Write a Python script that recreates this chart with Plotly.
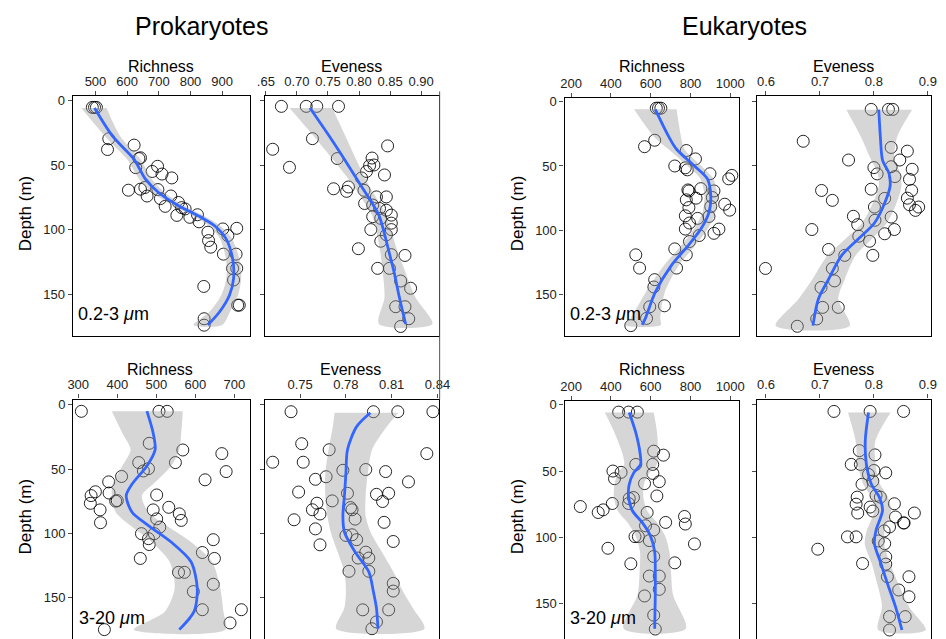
import plotly.graph_objects as go

W, H = 946, 639

# ---------------- DATA ----------------
# Panel 1: Prokaryotes 0.2-3 um, Richness
p1_depth = [5.4, 5.4, 5.4, 29.7, 38, 34.6, 44.4, 45, 52, 51, 57, 55, 60,
            69.5, 68.7, 67.4, 74, 69, 76, 74, 82, 79, 83, 84, 89, 90.5, 88.5, 94,
            99.5, 99, 104.6, 102, 108.5, 113.6, 119, 119, 130, 130, 139, 144,
            158.5, 158.5, 169, 174]
p1_value = [490, 497, 503, 542, 538, 622, 642, 637, 627, 696, 710, 679, 741,
            604, 642, 656, 663, 697, 705, 738, 720, 762, 772, 783, 757, 798, 822, 827,
            902, 946, 918, 855, 857, 864, 904, 944, 933, 946, 936, 842,
            954, 949, 843, 843]
p1_fit_depth = [5.9, 27.7, 45.6, 52, 61, 71.3, 81.5, 89.2, 97, 107, 122.6, 138, 150.8, 163.6, 173.8]
p1_fit = [497, 554, 622, 637, 658, 699, 762, 824, 876, 912, 933, 936, 923, 892, 855]
p1_lower = [455, 530, 600, 616, 638, 680, 744, 806, 858, 893, 912, 913, 897, 860, 810]
p1_upper = [535, 578, 642, 657, 678, 718, 780, 842, 894, 931, 954, 960, 950, 925, 900]

# Panel 2: Prokaryotes 0.2-3 um, Eveness
p2_depth = [4.6, 4.6, 4.6, 4.6, 29.6, 37.8, 35.2, 51.8, 45, 44.6, 50.5, 50, 55, 57.7, 60,
            68.4, 67, 70.4, 69.6, 74.7, 74.7, 79.8, 81, 83.7, 85, 88.8, 90, 91.3, 95,
            100, 100, 104, 109, 114.8, 119.4, 120, 130, 130, 139.8, 145.4, 159.7, 159.7, 169, 175]
p2_value = [0.675, 0.715, 0.732, 0.767, 0.725, 0.661, 0.846, 0.688, 0.765, 0.821, 0.817, 0.824, 0.812, 0.841, 0.804,
            0.759, 0.783, 0.780, 0.808, 0.828, 0.844, 0.809, 0.822, 0.833, 0.844, 0.852, 0.822, 0.835, 0.852,
            0.852, 0.819, 0.844, 0.835, 0.799, 0.852, 0.874, 0.830, 0.849, 0.867, 0.883, 0.859, 0.874, 0.880, 0.867]
p2_fit_depth = [5.9, 27.6, 50.5, 65.8, 78.6, 88.8, 101.5, 116.8, 132, 152.6, 173]
p2_fit = [0.721, 0.752, 0.783, 0.803, 0.820, 0.832, 0.840, 0.848, 0.856, 0.865, 0.875]
p2_lower = [0.688, 0.727, 0.766, 0.791, 0.808, 0.821, 0.828, 0.834, 0.838, 0.841, 0.832]
p2_upper = [0.757, 0.778, 0.800, 0.816, 0.832, 0.843, 0.852, 0.862, 0.874, 0.891, 0.918]

# Panel 3: Eukaryotes 0.2-3 um, Richness
p3_depth = [5.1, 5.1, 5.1, 30, 35, 38, 44.5, 50, 51.4, 53, 56, 57.3, 60,
            67.6, 68.6, 69.4, 69.4, 74.5, 76.3, 75, 81.5, 82.3, 79.7, 84.3, 88.7, 90.7, 89.2,
            94.3, 99, 99, 102.3, 104, 108.7, 114.4, 119, 119, 129.3, 129.3, 138.3, 144,
            159.4, 158.6, 168.4, 174]
p3_value = [628, 639, 651, 620, 569, 779, 825, 721, 774, 784, 898, 1008, 992,
            852, 787, 792, 918, 910, 779, 828, 902, 792, 972, 997, 774, 836, 893,
            795, 774, 943, 918, 844, 795, 721, 779, 525, 544, 730, 620, 616,
            595, 669, 579, 500]
p3_fit_depth = [6, 27, 37, 50, 60, 73, 86, 99, 112, 127, 148, 168, 173.5]
p3_fit = [623, 690, 730, 820, 885, 902, 893, 852, 787, 705, 623, 574, 557]
p3_lower = [516, 615, 690, 785, 850, 870, 860, 818, 752, 668, 575, 500, 470]
p3_upper = [730, 752, 770, 855, 915, 935, 926, 886, 822, 742, 671, 648, 650]

# Panel 4: Eukaryotes 0.2-3 um, Eveness
p4_depth = [6.2, 6.2, 6.2, 31, 35.8, 38.7, 45.6, 45.6, 52.8, 51.5, 56.4, 50.8, 58.5, 60.6,
            69.3, 68.3, 69.3, 77, 75.5, 75.3, 80.4, 82.2, 84.8, 82.2, 89.4, 95.9, 92.5, 90,
            99.7, 104.9, 103, 99.7, 108.8, 115.2, 119.8, 119.8, 130, 130, 139.7, 144.8,
            160.3, 160.3, 169.3, 175]
p4_value = [0.795, 0.827, 0.835, 0.669, 0.832, 0.862, 0.848, 0.753, 0.871, 0.800, 0.806, 0.832, 0.839, 0.866,
            0.703, 0.795, 0.870, 0.723, 0.820, 0.862, 0.866, 0.883, 0.877, 0.801, 0.762, 0.770, 0.802, 0.832,
            0.685, 0.772, 0.820, 0.838, 0.792, 0.716, 0.746, 0.798, 0.599, 0.723, 0.727, 0.702,
            0.705, 0.734, 0.694, 0.658]
p4_fit_depth = [6.4, 27.6, 45.6, 56, 66, 79, 94.6, 107.5, 120, 138.4, 153.9, 174.5]
p4_fit = [0.809, 0.812, 0.816, 0.828, 0.830, 0.820, 0.801, 0.770, 0.740, 0.716, 0.697, 0.687]
p4_lower = [0.749, 0.776, 0.795, 0.807, 0.809, 0.798, 0.778, 0.746, 0.714, 0.686, 0.660, 0.618]
p4_upper = [0.871, 0.843, 0.838, 0.849, 0.851, 0.842, 0.824, 0.795, 0.766, 0.746, 0.734, 0.755]

# Panel 5: Prokaryotes 3-20 um, Richness
p5_depth = [5.1, 5.1, 5.1, 30, 35.2, 38, 45, 49.7, 51.5, 45, 52, 55.8, 58.4, 60,
            67.7, 70.7, 68.7, 74.6, 75, 70.2, 76.7, 81.8, 81.8, 79.8, 84.9, 90, 88.8, 91.8,
            95.2, 100.3, 100.3, 104.2, 108.8, 105, 115, 119.6, 119.6, 130.4, 130.4, 145.4,
            139.7, 159.5, 159.5, 169.8, 175]
p5_value = [308, 507, 528, 482, 568, 668, 455, 480, 467, 549, 679, 411, 625, 378,
            344, 333, 379, 400, 396, 501, 331, 356, 492, 532, 559, 564, 501, 357,
            509, 495, 462, 480, 482, 646, 618, 459, 649, 557, 572, 595,
            646, 618, 718, 689, 367]
p5_fit_depth = [5, 22, 35, 47.6, 61.7, 70.7, 83.6, 94, 106.8, 122.2, 142.8, 160.8, 175]
p5_fit = [476, 492, 497, 476, 438, 423, 438, 480, 538, 589, 605, 597, 559]
p5_lower = [386, 413, 434, 413, 388, 386, 396, 434, 488, 534, 547, 522, 442]
p5_upper = [568, 564, 559, 538, 492, 463, 480, 526, 589, 643, 664, 672, 677]

# Panel 6: Prokaryotes 3-20 um, Eveness
p6_depth = [5.4, 5.4, 5.4, 5.4, 30.3, 35, 38, 44.7, 44.7, 51, 50.4, 52, 58, 56, 60,
            67.9, 68.9, 69.7, 68.9, 75.3, 74.8, 76.6, 80, 81.7, 81.7, 85, 89, 89.5, 91.5,
            96.6, 101.7, 101.2, 105, 106.4, 109, 114.7, 119.3, 119.3, 129.6, 129.6,
            139, 145, 159.6, 159.6, 169, 174.3]
p6_value = [0.744, 0.798, 0.814, 0.837, 0.751, 0.769, 0.833, 0.732, 0.752, 0.778, 0.793, 0.806, 0.760, 0.767, 0.821,
            0.749, 0.781, 0.800, 0.808, 0.804, 0.771, 0.761, 0.783, 0.784, 0.758, 0.763, 0.786, 0.746, 0.805,
            0.760, 0.780, 0.784, 0.787, 0.811, 0.763, 0.793, 0.788, 0.795, 0.782, 0.795,
            0.811, 0.811, 0.791, 0.808, 0.800, 0.797]
p6_fit_depth = [6.2, 17, 35, 53, 71, 86.4, 99, 114.6, 130, 145.5, 158.3, 174.3]
p6_fit = [0.796, 0.787, 0.781, 0.780, 0.779, 0.778, 0.779, 0.786, 0.795, 0.798, 0.800, 0.801]
p6_lower = [0.7725, 0.7714, 0.7686, 0.7665, 0.7665, 0.7678, 0.7700, 0.7746, 0.7789, 0.7800, 0.7789, 0.7736]
p6_upper = [0.8143, 0.8068, 0.7971, 0.7944, 0.7929, 0.7929, 0.7961, 0.8036, 0.8111, 0.8175, 0.8239, 0.8314]

# Panel 7: Eukaryotes 3-20 um, Richness
p7_depth = [5.5, 5.5, 5.5, 35, 38, 45, 45, 50, 51, 55.8, 51.8, 58, 59.5,
            68.8, 70.8, 70, 74.5, 74.5, 76.8, 79.3, 81.3, 81.3, 84.3, 88.8, 90, 91.3, 94.5,
            99.5, 99.5, 102.5, 105, 108.3, 114.5, 120, 119.3, 129.3, 129.3, 139.3, 144.3,
            158.8, 169.3]
p7_value = [439, 489, 533, 615, 664, 525, 610, 410, 451, 418, 611, 643, 569,
            631, 492, 513, 489, 407, 246, 361, 336, 582, 770, 675, 774, 574, 615,
            521, 538, 593, 820, 385, 615, 500, 721, 593, 643, 643, 569,
            615, 623]
p7_fit_depth = [5.8, 21, 36, 45, 51, 60, 70, 80, 88.8, 98.8, 111, 126, 143.8, 169]
p7_fit = [492, 525, 546, 549, 516, 492, 489, 508, 557, 598, 620, 623, 623, 620]
p7_lower = [369, 418, 456, 467, 437, 418, 415, 434, 483, 524, 546, 544, 533, 464]
p7_upper = [615, 632, 636, 631, 595, 566, 563, 582, 631, 672, 694, 702, 713, 776]

# Panel 8: Eukaryotes 3-20 um, Eveness
p8_depth = [5, 5, 5, 34.6, 37.8, 45, 45, 49.6, 51.4, 52.6, 57.6, 60,
            68.4, 69.7, 69.7, 75, 74.7, 77.2, 80.2, 81.7, 81.7, 84.7, 89.2, 89.2, 92.2, 95.2,
            99.7, 99.7, 102.8, 104.8, 109, 114.8, 120.3, 119.8, 129.8, 129.8, 139.8, 144.9,
            159.9, 159.9, 170]
p8_value = [0.726, 0.793, 0.855, 0.773, 0.802, 0.758, 0.775, 0.800, 0.822, 0.790, 0.798, 0.778,
            0.804, 0.812, 0.769, 0.767, 0.838, 0.793, 0.798, 0.770, 0.875, 0.840, 0.855, 0.856, 0.829, 0.819,
            0.751, 0.767, 0.808, 0.820, 0.696, 0.822, 0.822, 0.779, 0.825, 0.865, 0.846, 0.865,
            0.829, 0.858, 0.829]
p8_fit_depth = [5.8, 27, 44.6, 59.6, 69.7, 79.7, 94.7, 104.8, 119.8, 134.8, 152.4, 170]
p8_fit = [0.790, 0.784, 0.786, 0.795, 0.810, 0.816, 0.804, 0.801, 0.813, 0.825, 0.840, 0.852]
p8_lower = [0.752, 0.766, 0.770, 0.780, 0.795, 0.801, 0.787, 0.783, 0.796, 0.806, 0.815, 0.808]
p8_upper = [0.831, 0.803, 0.803, 0.811, 0.826, 0.832, 0.820, 0.819, 0.830, 0.845, 0.865, 0.896]

depth_ticks = [0, 50, 100, 150]
p1_ticks = [500, 600, 700, 800, 900]
p2_ticks = [0.65, 0.70, 0.75, 0.80, 0.85, 0.90]
p2_ticktext = [".65", "0.70", "0.75", "0.80", "0.85", "0.90"]
p3_ticks = [200, 400, 600, 800, 1000]
p4_ticks = [0.6, 0.7, 0.8, 0.9]
p5_ticks = [300, 400, 500, 600, 700]
p6_ticks = [0.75, 0.78, 0.81, 0.84]
p7_ticks = [200, 400, 600, 800, 1000]
p8_ticks = [0.6, 0.7, 0.8, 0.9]

# ---------------- LAYOUT ----------------
FONT = "Liberation Sans, Arial, Helvetica, sans-serif"
TICKC = "#4D4D4D"

panels = [
    dict(d=p1_depth, v=p1_value, fd=p1_fit_depth, f=p1_fit, lo=p1_lower, up=p1_upper,
         px=(66, 247), py=(93, 334), xr=[428, 988], yr=[182.3, -3.1], xt=p1_ticks, xtt=None, ylab=True, top=True),
    dict(d=p2_depth, v=p2_value, fd=p2_fit_depth, f=p2_fit, lo=p2_lower, up=p2_upper,
         px=(262.5, 440), py=(93, 334), xr=[0.649, 0.929], yr=[182.3, -3.1], xt=p2_ticks, xtt=p2_ticktext, ylab=False, top=True),
    dict(d=p3_depth, v=p3_value, fd=p3_fit_depth, f=p3_fit, lo=p3_lower, up=p3_upper,
         px=(568, 746), py=(95, 334), xr=[167, 1044], yr=[182, -2.5], xt=p3_ticks, xtt=None, ylab=True, top=True),
    dict(d=p4_depth, v=p4_value, fd=p4_fit_depth, f=p4_fit, lo=p4_lower, up=p4_upper,
         px=(764.5, 942), py=(93, 334), xr=[0.5836, 0.906], yr=[182.5, -3.9], xt=p4_ticks, xtt=None, ylab=False, top=True),
    dict(d=p5_depth, v=p5_value, fd=p5_fit_depth, f=p5_fit, lo=p5_lower, up=p5_upper,
         px=(66.5, 246.5), py=(398, 639), xr=[287, 739], yr=[182.3, -4.1], xt=p5_ticks, xtt=None, ylab=True, top=False),
    dict(d=p6_depth, v=p6_value, fd=p6_fit_depth, f=p6_fit, lo=p6_lower, up=p6_upper,
         px=(262.5, 440), py=(398, 639), xr=[0.7271, 0.8411], yr=[182.3, -4.1], xt=p6_ticks, xtt=None, ylab=False, top=False),
    dict(d=p7_depth, v=p7_value, fd=p7_fit_depth, f=p7_fit, lo=p7_lower, up=p7_upper,
         px=(568, 746), py=(400, 639), xr=[167, 1044], yr=[176.8, -2.5], xt=p7_ticks, xtt=None, ylab=True, top=False),
    dict(d=p8_depth, v=p8_value, fd=p8_fit_depth, f=p8_fit, lo=p8_lower, up=p8_upper,
         px=(764.5, 942), py=(398, 639), xr=[0.5836, 0.906], yr=[176.8, -4.0], xt=p8_ticks, xtt=None, ylab=False, top=False),
]

fig = go.Figure()
layout = dict(
    width=W, height=H, margin=dict(l=0, r=0, t=0, b=0),
    paper_bgcolor="white", plot_bgcolor="white", showlegend=False,
    font=dict(family=FONT, color="black"),
)

for i, p in enumerate(panels, start=1):
    xa = "x" if i == 1 else f"x{i}"
    ya = "y" if i == 1 else f"y{i}"
    # points
    fig.add_trace(go.Scatter(
        x=p["v"], y=p["d"], mode="markers", xaxis=xa, yaxis=ya,
        marker=dict(symbol="circle-open", size=12, color="rgba(0,0,0,0.85)", line=dict(width=1)),
        hoverinfo="skip"))
    # confidence ribbon (semi-transparent grey, drawn over the points)
    fig.add_trace(go.Scatter(
        x=list(p["lo"]) + list(p["up"])[::-1], y=list(p["fd"]) + list(p["fd"])[::-1],
        mode="lines", fill="toself", fillcolor="rgba(153,153,153,0.4)",
        line=dict(width=0, shape="spline", smoothing=0.8), xaxis=xa, yaxis=ya, hoverinfo="skip"))
    # smooth fit
    fig.add_trace(go.Scatter(
        x=p["f"], y=p["fd"], mode="lines", xaxis=xa, yaxis=ya,
        line=dict(color="#3366FF", width=2.8, shape="spline", smoothing=0.8), hoverinfo="skip"))

    x0, x1 = p["px"]
    y0, y1 = p["py"]
    xkey = "xaxis" if i == 1 else f"xaxis{i}"
    ykey = "yaxis" if i == 1 else f"yaxis{i}"
    xax = dict(domain=[x0 / W, x1 / W], range=p["xr"], side="top", anchor=ya,
               ticks="outside", ticklen=4, tickwidth=1, tickcolor=TICKC,
               showline=True, linecolor="black", linewidth=1.3, mirror=p["top"],
               showgrid=False, zeroline=False, tickvals=p["xt"],
               tickfont=dict(size=13, color="#222", family=FONT))
    if p["xtt"] is not None:
        xax["ticktext"] = p["xtt"]
    layout[xkey] = xax
    layout[ykey] = dict(domain=[1 - y1 / H, 1 - y0 / H], range=p["yr"], anchor=xa,
                        ticks="outside", ticklen=4, tickwidth=1, tickcolor=TICKC,
                        showline=True, linecolor="black", linewidth=1.3, mirror=True,
                        showgrid=False, zeroline=False, tickvals=depth_ticks,
                        showticklabels=p["ylab"],
                        tickfont=dict(size=13, color="#222", family=FONT))

def ann(text, x, y, size, xanchor="center", yanchor="middle", angle=0):
    return dict(text=text, x=x / W, y=1 - y / H, xref="paper", yref="paper",
                showarrow=False, xanchor=xanchor, yanchor=yanchor, textangle=angle,
                borderpad=0,
                font=dict(size=size, family=FONT, color="black"))

annotations = [
    ann("Prokaryotes", 197, 22, 25),
    ann("Eukaryotes", 752, 22, 25),
    ann("Richness", 156, 63, 16), ann("Eveness", 351, 63, 16),
    ann("Richness", 657, 63, 16), ann("Eveness", 853, 63, 16),
    ann("Richness", 155, 368, 16), ann("Eveness", 350, 368, 16),
    ann("Richness", 657, 368, 16), ann("Eveness", 853, 368, 16),
    ann("Depth (m)", 18, 211, 17, angle=-90), ann("Depth (m)", 18, 516, 17, angle=-90),
    ann("Depth (m)", 520, 211, 17, angle=-90), ann("Depth (m)", 520, 516, 17, angle=-90),
    ann("0.2-3 <i>μ</i>m", 70, 312, 18, xanchor="left"),
    ann("3-20 <i>μ</i>m", 71, 618, 18, xanchor="left"),
    ann("0.2-3 <i>μ</i>m", 572, 312, 18, xanchor="left"),
    ann("3-20 <i>μ</i>m", 573, 618, 18, xanchor="left"),
]
layout["annotations"] = annotations
layout["shapes"] = [dict(type="line", xref="paper", yref="paper",
                         x0=440.5 / W, x1=440.5 / W, y0=1 - 88 / H, y1=1 - 398 / H,
                         line=dict(color="#555", width=1))]

fig.update_layout(**layout)
fig.write_html("out.html")
